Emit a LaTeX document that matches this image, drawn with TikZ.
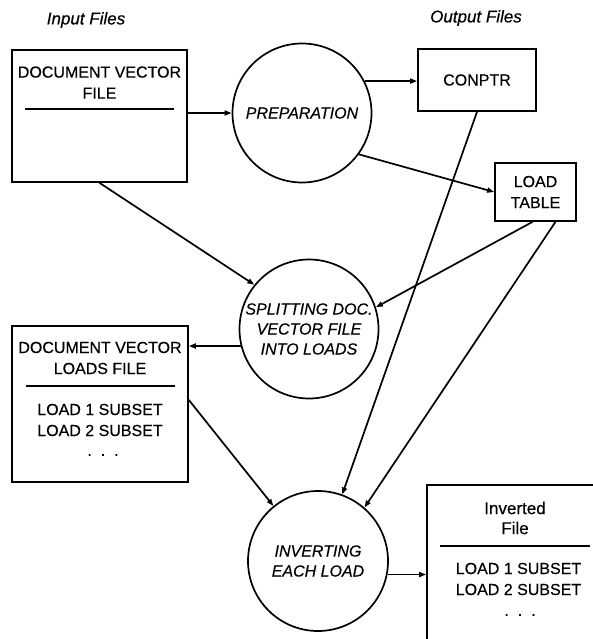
\documentclass[tikz,border=0pt]{standalone}
\usepackage{fontspec}
\setmainfont{Liberation Sans}[FakeBold=0.4]
\usetikzlibrary{arrows.meta}
\tikzset{
  lw/.style={line width=1.7pt},
  box/.style={draw, lw, rectangle, inner sep=0pt},
  proc/.style={draw, lw, circle, inner sep=0pt, minimum size=139pt, align=center,
     font=\fontsize{16}{20}\selectfont\itshape},
  txt/.style={align=center, inner sep=0pt, font=\fontsize{16}{21}\selectfont},
  head/.style={inner sep=0pt, font=\fontsize{17}{20}\selectfont\itshape},
  arr/.style={lw, -{Triangle[length=7pt,width=5pt]}},
  sep/.style={lw}
}
\newcommand{\mydots}{.\hspace{9pt}.\hspace{9pt}.}
\begin{document}
\begin{tikzpicture}[x=1pt,y=-1pt]
\useasboundingbox (0,0) rectangle (593,639);
\clip (0,0) rectangle (593,639);
% headings
\node[head] (inhead) at (86,20) {Input Files};
\node[head] (outhead) at (476,18) {Output Files};
% boxes
\node[box, minimum width=175pt, minimum height=132pt] (dvf) at (99.5,116) {};
\node[txt] (dvft) at (99.5,82.5) {DOCUMENT VECTOR\\FILE};
\coordinate (dvfa) at (25,109); \coordinate (dvfb) at (174,109);
\draw[sep] (dvfa) -- (dvfb);

\node[box, minimum width=118pt, minimum height=62pt] (conptr) at (477,80) {};
\node[txt] (conptrt) at (477,80) {CONPTR};

\node[box, minimum width=81pt, minimum height=58pt] (lt) at (535.5,192) {};
\node[txt] (ltt) at (535.5,192) {LOAD\\TABLE};

\node[box, minimum width=176pt, minimum height=156pt] (dvl) at (100,404) {};
\node[txt] (dvlt) at (100,358) {DOCUMENT VECTOR\\LOADS FILE};
\coordinate (dvla) at (26,386); \coordinate (dvlb) at (175,386);
\draw[sep] (dvla) -- (dvlb);
\node[txt] (dvls) at (100,420) {LOAD 1 SUBSET\\LOAD 2 SUBSET};
\node[txt] (dvld) at (103,455) {\mydots};

\node[box, minimum width=220pt, minimum height=220pt] (invf) at (537,595) {};
\node[txt, font=\fontsize{17}{20}\selectfont] (invft) at (515,518) {Inverted\\File};
\coordinate (invfa) at (440,546); \coordinate (invfb) at (590,546);
\draw[sep] (invfa) -- (invfb);
\node[txt] (invfs) at (518.5,579) {LOAD 1 SUBSET\\LOAD 2 SUBSET};
\node[txt] (invfd) at (520,615) {\mydots};

% processes
\node[proc] (prep) at (302,113) {PREPARATION};
\node[proc] (split) at (309,329) {SPLITTING DOC.\\VECTOR FILE\\INTO LOADS};
\node[proc, minimum size=140pt] (inv) at (318,561) {INVERTING\\EACH LOAD};

% connectors
\draw[arr] (prep.west -| dvf.east) -- (prep.west);
\draw[arr] (prep.27) -- (prep.27 -| conptr.west);
\draw[arr] (prep.-36) -- (lt.west);
\draw[arr] (conptr.south) -- (inv.70);
\draw[arr] ([xshift=-3pt]lt.south) -- (split.18);
\draw[arr] ([xshift=20pt]lt.south) -- (inv.49);
\draw[arr] (dvf.south) -- (split.141);
\draw[arr] (split.194) -- (split.194 -| dvl.east);
\draw[arr] ([yshift=4pt]dvl.east) -- (inv.129);
\draw[arr] (inv.-11) -- (inv.-11 -| invf.west);
\end{tikzpicture}
\end{document}
